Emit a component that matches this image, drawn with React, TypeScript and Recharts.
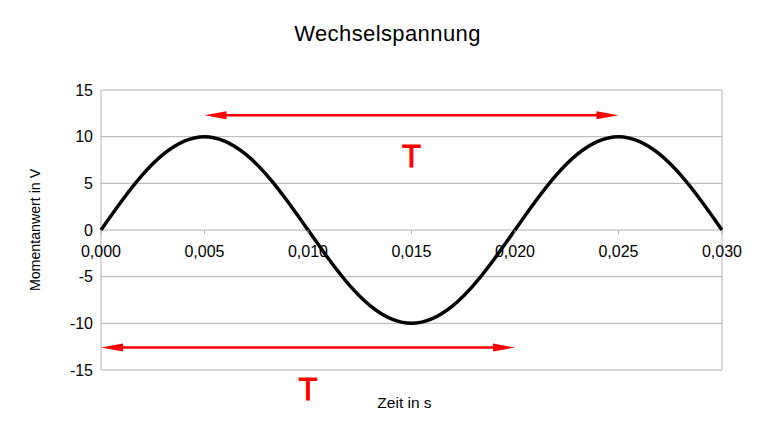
import {
  CartesianGrid,
  ComposedChart,
  Line,
  ReferenceDot,
  ReferenceLine,
  XAxis,
  YAxis,
} from 'recharts';

const zeit = [
  0, 0.001, 0.002, 0.003, 0.004, 0.005, 0.006, 0.007, 0.008, 0.009, 0.01,
  0.011, 0.012, 0.013, 0.014, 0.015, 0.016, 0.017, 0.018, 0.019, 0.02,
  0.021, 0.022, 0.023, 0.024, 0.025, 0.026, 0.027, 0.028, 0.029, 0.03,
];
const spannung = [
  0, 3.1, 5.9, 8.1, 9.5, 10, 9.5, 8.1, 5.9, 3.1, 0,
  -3.1, -5.9, -8.1, -9.5, -10, -9.5, -8.1, -5.9, -3.1, 0,
  3.1, 5.9, 8.1, 9.5, 10, 9.5, 8.1, 5.9, 3.1, 0,
];
const xTicks = [0, 0.005, 0.01, 0.015, 0.02, 0.025, 0.03];
const yTicks = [-15, -10, -5, 0, 5, 10, 15];

// Periodendauer-Pfeile: Start, Ende, Höhe
const pfeilStart = [0.005, 0];
const pfeilEnde = [0.025, 0.02];
const pfeilHoehe = [12.3, -12.6];

const data = zeit.map((t, i) => ({ t, u: spannung[i] }));

const font = '"Liberation Sans", Arial, sans-serif';
const red = '#ff0000';
const grid = '#b3b3b3';

function formatDe(v: number) {
  return v.toFixed(3).replace('.', ',');
}

function ArrowShape(props: any) {
  const { x1, y1, x2, y2 } = props;
  const head = 22;
  const half = 4;
  const mid = (x1 + x2) / 2;
  return (
    <g>
      <line x1={x1 + head - 2} y1={y1} x2={x2 - head + 2} y2={y2} stroke={red} strokeWidth={2.5} />
      <polygon points={`${x1},${y1} ${x1 + head},${y1 - half} ${x1 + head},${y1 + half}`} fill={red} />
      <polygon points={`${x2},${y2} ${x2 - head},${y2 - half} ${x2 - head},${y2 + half}`} fill={red} />
      <text
        x={mid}
        y={y1 + 52}
        textAnchor="middle"
        fill={red}
        stroke={red}
        strokeWidth={1}
        fontFamily={font}
        fontSize={31}
      >
        T
      </text>
    </g>
  );
}

function XTickAtZero(props: any) {
  const { cx, cy, value } = props;
  return (
    <g>
      <line x1={cx} y1={cy} x2={cx} y2={cy + 4} stroke={grid} strokeWidth={1} />
      <text x={cx} y={cy + 27} textAnchor="middle" fill="#000" fontFamily={font} fontSize={16}>
        {formatDe(value)}
      </text>
    </g>
  );
}

export default function App() {
  return (
    <div style={{ margin: -8, width: 775, height: 435, background: '#fff', position: 'relative' }}>
      <div
        style={{
          position: 'absolute',
          top: 21,
          left: 0,
          width: 775,
          textAlign: 'center',
          fontFamily: font,
          fontSize: 22,
          letterSpacing: 0.4,
          color: '#000',
        }}
      >
        Wechselspannung
      </div>
      <ComposedChart width={775} height={435} data={data} margin={{ top: 90, right: 53, bottom: 35, left: 0 }}>
        <CartesianGrid stroke={grid} strokeWidth={1} />
        <XAxis
          type="number"
          dataKey="t"
          domain={[0, 0.03]}
          ticks={xTicks}
          tick={false}
          tickLine={false}
          axisLine={false}
          height={30}
          label={{ value: 'Zeit in s', position: 'insideBottom', offset: -8, dx: -7, fill: '#000', fontFamily: font, fontSize: 15.5 }}
        />
        <YAxis
          type="number"
          domain={[-15, 15]}
          ticks={yTicks}
          width={101}
          tickLine={false}
          axisLine={false}
          tick={{ fill: '#000', fontFamily: font, fontSize: 16 }}
          tickMargin={2}
          label={{ value: 'Momentanwert in V', angle: -90, position: 'center', dx: -16, fill: '#000', fontFamily: font, fontSize: 14.2 }}
        />
        {xTicks.map((v) => (
          <ReferenceDot key={v} x={v} y={0} r={0} shape={(p: any) => <XTickAtZero {...p} value={v} />} />
        ))}
        {pfeilStart.map((s, i) => (
          <ReferenceLine
            key={i}
            segment={[
              { x: s, y: pfeilHoehe[i] },
              { x: pfeilEnde[i], y: pfeilHoehe[i] },
            ]}
            shape={ArrowShape}
          />
        ))}
        <Line
          type="natural"
          dataKey="u"
          stroke="#000"
          strokeWidth={3.5}
          dot={false}
          isAnimationActive={false}
        />
      </ComposedChart>
    </div>
  );
}
